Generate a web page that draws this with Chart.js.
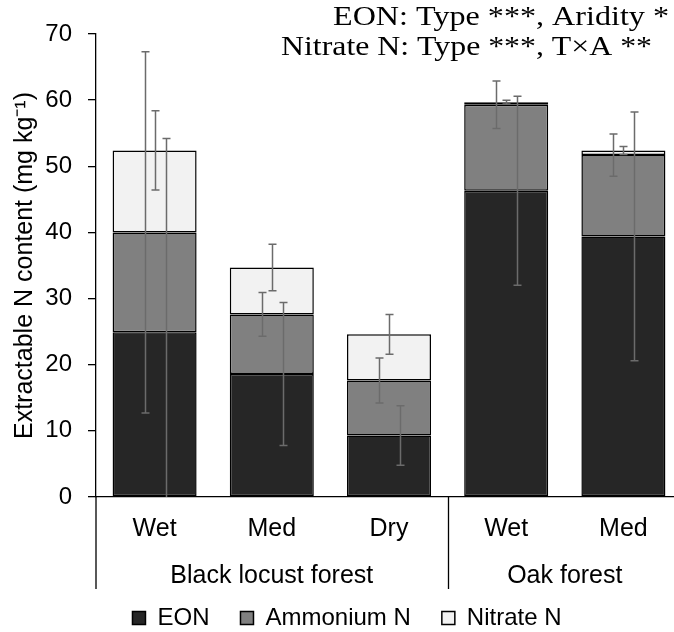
<!DOCTYPE html>
<html>
<head>
<meta charset="utf-8">
<script src="https://cdn.jsdelivr.net/npm/chart.js@4.4.1/dist/chart.umd.min.js"></script>
<style>
  html, body { margin: 0; padding: 0; background: #fff; overflow: hidden; }
  canvas { display: block; }
</style>
</head>
<body>
<canvas id="myChart" width="700" height="632"></canvas>
<script>
const categories = ['Wet', 'Med', 'Dry', 'Wet', 'Med'];
const groups = ['Black locust forest', 'Oak forest'];
const groupRanges = [[0, 2], [3, 4]];

const eon = [24.9, 18.6, 9.3, 46.3, 39.4];
const ammonium = [15.1, 9.0, 8.3, 13.0, 12.3];
const nitrate = [12.4, 7.1, 7.0, 0.4, 0.7];

const eonErr = [29.3, 10.8, 4.5, 14.3, 18.8];
const ammoniumErr = [27.3, 3.3, 3.4, 3.6, 3.2];
const nitrateErr = [6.0, 3.5, 3.0, 0.3, 0.6];

const yMin = 0;
const yMax = 70;
const yStep = 10;

const noteLines = ['EON: Type ***, Aridity *', 'Nitrate N: Type ***, T×A **'];

Chart.defaults.font.family = "'Liberation Sans', Arial, sans-serif";
Chart.defaults.color = '#000';

// error bars sit at the top of each stacked segment, shifted sideways a bit
const errorBars = {
    id: 'errorBars',
    afterDatasetsDraw(chart) {
        const {ctx, chartArea, scales: {y}} = chart;
        ctx.save();
        ctx.beginPath();
        ctx.rect(chartArea.left, chartArea.top, chartArea.right - chartArea.left, chartArea.bottom - chartArea.top);
        ctx.clip();
        ctx.strokeStyle = '#6b6b6b';
        ctx.lineWidth = 1.5;
        chart.data.datasets.forEach((ds, d) => {
            const meta = chart.getDatasetMeta(d);
            meta.data.forEach((bar, i) => {
                let top = 0;
                for (let k = 0; k <= d; k++) top += chart.data.datasets[k].data[i];
                const x = Math.round(bar.x + ds.errShift * bar.width) + 0.5;
                const y1 = y.getPixelForValue(top + ds.err[i]);
                const y2 = y.getPixelForValue(top - ds.err[i]);
                ctx.beginPath();
                ctx.moveTo(x, y1); ctx.lineTo(x, y2);
                ctx.moveTo(x - 4, y1); ctx.lineTo(x + 4, y1);
                ctx.moveTo(x - 4, y2); ctx.lineTo(x + 4, y2);
                ctx.stroke();
            });
        });
        ctx.restore();
    }
};

// group labels under the categories plus the vertical dividers
const groupAxis = {
    id: 'groupAxis',
    afterDraw(chart) {
        const {ctx, chartArea, scales: {x}} = chart;
        const lineBottom = 589;
        ctx.save();
        ctx.strokeStyle = '#000';
        ctx.lineWidth = 1.3;
        ctx.beginPath();
        ctx.moveTo(chartArea.left, chartArea.bottom);
        ctx.lineTo(chartArea.left, lineBottom);
        groupRanges.forEach(([a, b], g) => {
            if (g > 0) {
                const sx = Math.round((x.getPixelForValue(a - 1) + x.getPixelForValue(a)) / 2) + 0.5;
                ctx.moveTo(sx, chartArea.bottom);
                ctx.lineTo(sx, lineBottom);
            }
        });
        ctx.stroke();
        ctx.font = "25px 'Liberation Sans', Arial, sans-serif";
        ctx.fillStyle = '#000';
        ctx.textAlign = 'center';
        ctx.textBaseline = 'alphabetic';
        groupRanges.forEach(([a, b], g) => {
            const cx = (x.getPixelForValue(a) + x.getPixelForValue(b)) / 2;
            ctx.fillText(groups[g], cx, 583);
        });
        ctx.restore();
    }
};

// significance note in the top right corner
const statsNote = {
    id: 'statsNote',
    afterDraw(chart) {
        const ctx = chart.ctx;
        const spans = [[333, 669, 25], [281, 652, 55]];
        ctx.save();
        ctx.font = "28px 'Liberation Serif', 'Times New Roman', serif";
        ctx.fillStyle = '#000';
        ctx.textAlign = 'left';
        ctx.textBaseline = 'alphabetic';
        noteLines.forEach((t, i) => {
            const [left, right, base] = spans[i];
            const w = ctx.measureText(t).width;
            ctx.save();
            ctx.translate(left, base);
            ctx.scale((right - left) / w, 1);
            ctx.fillText(t, 0, 0);
            ctx.restore();
        });
        ctx.restore();
    }
};

new Chart(document.getElementById('myChart'), {
    type: 'bar',
    data: {
        labels: categories,
        datasets: [
            { label: 'EON', data: eon, err: eonErr, errShift: 0.13, backgroundColor: '#262626' },
            { label: 'Ammonium N', data: ammonium, err: ammoniumErr, errShift: -0.12, backgroundColor: '#808080' },
            { label: 'Nitrate N', data: nitrate, err: nitrateErr, errShift: 0, backgroundColor: '#f2f2f2' }
        ]
    },
    options: {
        responsive: false,
        devicePixelRatio: 1,
        animation: false,
        layout: { padding: { top: 34, right: 18, left: 12, bottom: 0 } },
        datasets: {
            bar: {
                borderColor: '#000',
                borderWidth: 1.5,
                borderSkipped: false,
                categoryPercentage: 1,
                barPercentage: 0.717
            }
        },
        plugins: {
            legend: {
                position: 'bottom',
                maxHeight: 57,
                labels: { font: { size: 24 }, color: '#000', boxWidth: 13, boxHeight: 13, padding: 31 }
            },
            tooltip: { enabled: false }
        },
        scales: {
            x: {
                stacked: true,
                grid: { display: false, drawTicks: false },
                border: { color: '#000', width: 1.3 },
                ticks: { font: { size: 25 }, color: '#000', padding: 17 },
                afterFit: s => { s.height = 78; }
            },
            y: {
                stacked: true,
                min: yMin,
                max: yMax,
                ticks: { stepSize: yStep, font: { size: 24 }, color: '#000', padding: 16 },
                grid: { drawOnChartArea: false, tickLength: 8, color: '#000', lineWidth: 1.3 },
                border: { color: '#000', width: 1.3 },
                title: {
                    display: true,
                    text: 'Extractable N content (mg kg⁻¹)',
                    font: { size: 25 },
                    color: '#000',
                    padding: { top: -2, bottom: 0 }
                },
                afterFit: s => { s.width = 84; }
            }
        }
    },
    plugins: [errorBars, groupAxis, statsNote]
});
</script>
</body>
</html>
